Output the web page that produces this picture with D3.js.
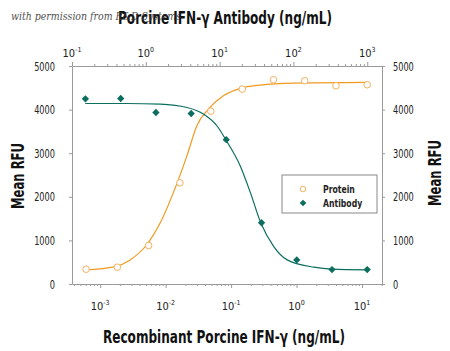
<!DOCTYPE html>
<html>
<head>
<meta charset="utf-8">
<script src="https://cdn.jsdelivr.net/npm/d3@7"></script>
<style>
body { margin: 0; background: #fff; }
svg text { font-stretch: condensed; }
</style>
</head>
<body>
<div id="chart"></div>
<script>
// set the size of svg
const width = 450; const height = 351;
const margin = {top: 66, right: 68, bottom: 67, left: 72};

// protein (bottom axis, ng/mL) and antibody (top axis, ng/mL)
const proteinConc = [0.00061, 0.00183, 0.0055, 0.0165, 0.049, 0.148, 0.444, 1.33, 4, 12];
const proteinRFU = [339, 385, 883, 2320, 3963, 4470, 4685, 4662, 4546, 4570];
const antibodyConc = [0.152, 0.457, 1.37, 4.12, 12.3, 37, 111, 333, 1000];
const antibodyRFU = [4247, 4255, 3933, 3910, 3311, 1405, 553, 330, 330];

// fitted curves
const proteinFitConc = [0.00059, 0.00169, 0.00287, 0.00503, 0.00824, 0.015, 0.0211, 0.0299, 0.045, 0.0762, 0.139, 0.277, 0.893, 11.5];
const proteinFitRFU = [323, 400, 553, 883, 1398, 2320, 2933, 3624, 4009, 4316, 4486, 4562, 4608, 4624];
const antibodyFitConc = [0.151, 0.557, 1.57, 3.62, 6.08, 9.24, 12.1, 19.1, 26.2, 36.1, 54.2, 82.3, 189, 328, 977];
const antibodyFitRFU = [4140, 4140, 4124, 4048, 3894, 3624, 3311, 2703, 2090, 1405, 859, 553, 385, 339, 323];

const yTicks = [0, 1000, 2000, 3000, 4000, 5000];
const legendLabels = ["Protein", "Antibody"];

const orange = '#f29a1f';
const teal = '#0b6e5e';
const axisColor = '#9a9a9a';
const font = '"DejaVu Sans", "Liberation Sans", sans-serif';

let svg = d3.select('#chart')
    .append('svg')
        .attr('width', width)
        .attr('height', height)
        .style('font-family', font);

// squeeze text horizontally, like the narrow font of the original
function condense(sel, k){
    sel.each(function(){
        const w = this.getComputedTextLength();
        d3.select(this)
            .attr('textLength', w * k)
            .attr('lengthAdjust', 'spacingAndGlyphs');
    });
}

// scales in page coordinates
const plotLeft = margin.left, plotRight = width - margin.right;
const plotTop = margin.top, plotBottom = height - margin.bottom;
const x_bottom = d3.scaleLog()
    .domain([Math.pow(10, -3.43), Math.pow(10, 1.305)])
    .range([plotLeft, plotRight]);
const x_top = d3.scaleLog()
    .domain([0.1, Math.pow(10, 3.2)])
    .range([plotLeft, plotRight]);
const y_scale = d3.scaleLinear()
    .domain([0, 5000])
    .range([plotBottom, plotTop]);

function isPow10(v){
    const l = Math.log10(v);
    return Math.abs(l - Math.round(l)) < 1e-6;
}

function styleAxis(g, up){
    g.select('.domain').attr('stroke', axisColor);
    g.selectAll('.tick line')
        .attr('stroke', axisColor)
        .attr('y2', d => (isPow10(d) ? 4 : 2) * (up ? -1 : 1));
    g.selectAll('.tick text').remove();
}

// bottom and top log axes (tick marks only)
svg.append('g')
    .attr('transform', `translate(0, ${plotBottom})`)
    .call(d3.axisBottom(x_bottom).tickSizeOuter(0).tickFormat(''))
    .call(g => styleAxis(g, false));
svg.append('g')
    .attr('transform', `translate(0, ${plotTop})`)
    .call(d3.axisTop(x_top).tickSizeOuter(0).tickFormat(''))
    .call(g => styleAxis(g, true));

// left and right linear axes (tick marks only)
[[d3.axisLeft, plotLeft], [d3.axisRight, plotRight]].forEach(function(a){
    svg.append('g')
        .attr('transform', `translate(${a[1]}, 0)`)
        .call(a[0](y_scale).tickValues(yTicks).tickSize(3).tickSizeOuter(0).tickFormat(''))
        .call(function(g){
            g.select('.domain').attr('stroke', axisColor);
            g.selectAll('.tick line').attr('stroke', axisColor);
            g.selectAll('.tick text').remove();
        });
});

// y tick labels
const yl = svg.append('g').selectAll('text.yl')
    .data(yTicks)
    .join('text')
        .attr('class', 'yl')
        .attr('x', plotLeft - 17)
        .attr('y', d => y_scale(d) + 4.5)
        .attr('text-anchor', 'end')
        .attr('font-size', 13)
        .attr('fill', '#222')
        .text(d => d);
const yr = svg.append('g').selectAll('text.yr')
    .data(yTicks)
    .join('text')
        .attr('class', 'yr')
        .attr('x', plotRight + 11)
        .attr('y', d => y_scale(d) + 4.5)
        .attr('text-anchor', 'start')
        .attr('font-size', 13)
        .attr('fill', '#222')
        .text(d => d);
condense(yl, 0.7);
condense(yr, 0.7);

// power-of-ten labels with superscripts
function powLabels(scale, yPos){
    const pows = scale.ticks().filter(isPow10);
    const t = svg.append('g').selectAll('text')
        .data(pows)
        .join('text')
            .attr('x', d => scale(d))
            .attr('y', yPos)
            .attr('text-anchor', 'middle')
            .attr('font-size', 11)
            .attr('fill', '#222');
    t.append('tspan').text('10');
    t.append('tspan')
        .attr('font-size', 7)
        .attr('dy', -5)
        .text(d => Math.round(Math.log10(d)));
}
powLabels(x_bottom, plotBottom + 26);
powLabels(x_top, plotTop - 9);

// fitted curves
const protLine = d3.line()
    .x((d, i) => x_bottom(proteinFitConc[i]))
    .y(d => y_scale(d))
    .curve(d3.curveMonotoneX);
const abLine = d3.line()
    .x((d, i) => x_top(antibodyFitConc[i]))
    .y(d => y_scale(d))
    .curve(d3.curveMonotoneX);
svg.append('path')
    .attr('d', protLine(proteinFitRFU))
    .attr('fill', 'none')
    .attr('stroke', orange)
    .attr('stroke-width', 1.2);
svg.append('path')
    .attr('d', abLine(antibodyFitRFU))
    .attr('fill', 'none')
    .attr('stroke', teal)
    .attr('stroke-width', 1.2);

// points
const diamond = d3.symbol().type(d3.symbolDiamond2).size(34);
svg.append('g')
    .selectAll('circle')
    .data(proteinRFU)
    .join('circle')
        .attr('cx', (d, i) => x_bottom(proteinConc[i]))
        .attr('cy', d => y_scale(d))
        .attr('r', 3.3)
        .attr('fill', '#fff')
        .attr('stroke', '#f4b060')
        .attr('stroke-width', 1);
svg.append('g')
    .selectAll('path')
    .data(antibodyRFU)
    .join('path')
        .attr('d', diamond)
        .attr('transform', (d, i) => `translate(${x_top(antibodyConc[i])}, ${y_scale(d)})`)
        .attr('fill', teal);

// legend
const lx = plotLeft + 210, ly = plotTop + 109;
svg.append('rect')
    .attr('x', lx).attr('y', ly)
    .attr('width', 95)
    .attr('height', 38)
    .attr('fill', '#fff')
    .attr('stroke', '#888')
    .attr('stroke-width', 1);
svg.append('circle')
    .attr('cx', lx + 21).attr('cy', ly + 14).attr('r', 2.8)
    .attr('fill', '#fff').attr('stroke', '#f4b060');
svg.append('path')
    .attr('d', d3.symbol().type(d3.symbolDiamond2).size(28))
    .attr('transform', `translate(${lx + 21}, ${ly + 28})`)
    .attr('fill', teal);
const legText = svg.selectAll('text.leg')
    .data(legendLabels)
    .join('text')
        .attr('class', 'leg')
        .attr('x', lx + 41)
        .attr('y', (d, i) => ly + 18 + i * 14)
        .attr('font-size', 11)
        .attr('font-weight', 'bold')
        .attr('fill', '#222')
        .text(d => d);
condense(legText, 0.78);

// axis titles
function title(x, y, rot, size, len, txt){
    svg.append('text')
        .attr('transform', `translate(${x}, ${y}) rotate(${rot})`)
        .attr('text-anchor', 'middle')
        .attr('font-size', size)
        .attr('font-weight', 'bold')
        .attr('fill', '#111')
        .attr('textLength', len)
        .attr('lengthAdjust', 'spacingAndGlyphs')
        .text(txt);
}
title(224, 343, 0, 18, 242, 'Recombinant Porcine IFN-\u03b3 (ng/mL)');
title(225, 24, 0, 18, 214, 'Porcine IFN-\u03b3 Antibody (ng/mL)');
title(24, 176, -90, 18, 66, 'Mean RFU');
title(441, 173, -90, 18, 66, 'Mean RFU');

// watermark
svg.append('text')
    .attr('x', 11).attr('y', 20)
    .attr('font-size', 11)
    .attr('font-style', 'italic')
    .attr('font-family', '"DejaVu Serif", serif')
    .attr('fill', '#333')
    .attr('opacity', 0.85)
    .attr('textLength', 170)
    .attr('lengthAdjust', 'spacingAndGlyphs')
    .text('with permission from R&D Systems');
</script>
</body>
</html>
